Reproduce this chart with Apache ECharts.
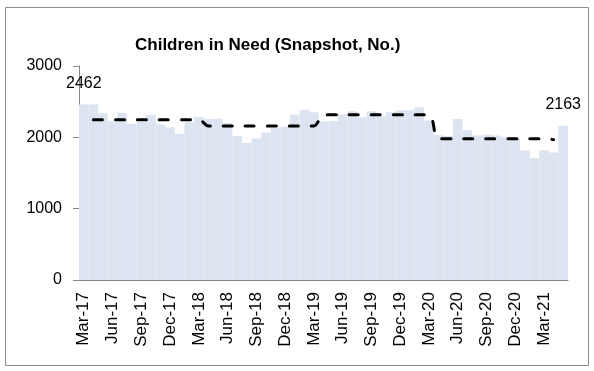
<!DOCTYPE html>
<html>
<head>
<meta charset="utf-8">
<script src="https://cdn.jsdelivr.net/npm/echarts@6/dist/echarts.min.js"></script>
<style>
  html, body { margin: 0; padding: 0; background: #fff; }
  #chart { width: 594px; height: 371px; }
</style>
</head>
<body>
<div id="chart"></div>
<script>
var months = [
    'Mar-17','Apr-17','May-17','Jun-17','Jul-17','Aug-17','Sep-17','Oct-17','Nov-17','Dec-17',
    'Jan-18','Feb-18','Mar-18','Apr-18','May-18','Jun-18','Jul-18','Aug-18','Sep-18','Oct-18','Nov-18','Dec-18',
    'Jan-19','Feb-19','Mar-19','Apr-19','May-19','Jun-19','Jul-19','Aug-19','Sep-19','Oct-19','Nov-19','Dec-19',
    'Jan-20','Feb-20','Mar-20','Apr-20','May-20','Jun-20','Jul-20','Aug-20','Sep-20','Oct-20','Nov-20','Dec-20',
    'Jan-21','Feb-21','Mar-21','Apr-21','May-21'
];

// monthly snapshot count
var snapshot = [
    2462, 2460, 2336, 2224, 2346, 2192, 2216, 2318, 2182, 2140,
    2047, 2213, 2286, 2258, 2262, 2200, 2020, 1921, 1985, 2069, 2130, 2150,
    2318, 2388, 2350, 2225, 2230, 2320, 2364, 2280, 2364, 2294, 2350, 2375,
    2380, 2423, 2235, 2030, 2020, 2258, 2098, 2025, 2035, 2025, 2000, 1985,
    1817, 1710, 1817, 1789, 2163
];

// yearly average (dashed line)
var yearAvg = [
    null, 2248, 2248, 2248, 2248, 2248, 2248, 2248, 2248, 2248,
    2248, 2248, 2248, 2160, 2160, 2160, 2160, 2160, 2160, 2160, 2160, 2160,
    2160, 2160, 2160, 2318, 2318, 2318, 2318, 2318, 2318, 2318, 2318, 2318,
    2318, 2318, 2318, 1981, 1981, 1981, 1981, 1981, 1981, 1981, 1981, 1981,
    1981, 1981, 1981, 1968, null
];

var yTicks = [0, 1000, 2000, 3000];

var font = 'Liberation Sans, Arial, sans-serif';

// label only the first and last bar
var barData = [];
for (var i = 0; i < snapshot.length; i++) {
    var item = { value: snapshot[i] };
    if (i === 0 || i === snapshot.length - 1) {
        item.label = { show: true };
    }
    barData.push(item);
}

var myChart = echarts.init(document.getElementById('chart'));
var option = {
    animation: false,
    backgroundColor: '#fff',
    title: {
        text: 'Children in Need (Snapshot, No.)',
        left: 130,
        top: 32,
        textStyle: {
            fontFamily: font,
            fontSize: 17,
            fontWeight: 'bold',
            color: '#000'
        }
    },
    graphic: [
        {
            type: 'rect',
            shape: { x: 5.5, y: 7.5, width: 583, height: 358 },
            style: { fill: 'none', stroke: '#8c8c8c', lineWidth: 1 },
            silent: true
        }
    ],
    grid: {
        left: 79,
        right: 26,
        top: 66,
        bottom: 91
    },
    xAxis: {
        type: 'category',
        data: months,
        boundaryGap: true,
        axisLine: { lineStyle: { color: '#868686', width: 1 } },
        axisTick: {
            interval: 2,
            length: 5,
            lineStyle: { color: '#868686' }
        },
        axisLabel: {
            interval: 2,
            rotate: 90,
            margin: 12,
            fontFamily: font,
            fontSize: 17,
            color: '#000'
        },
        splitLine: { show: false }
    },
    yAxis: {
        type: 'value',
        min: yTicks[0],
        max: yTicks[yTicks.length - 1],
        interval: 1000,
        axisLine: { show: true, lineStyle: { color: '#868686', width: 1 } },
        axisTick: { show: true, length: 6, lineStyle: { color: '#868686' } },
        axisLabel: {
            margin: 17,
            fontFamily: font,
            fontSize: 16,
            color: '#000',
            formatter: function (value) {
                return String(value);
            }
        },
        splitLine: { show: false }
    },
    series: [
        {
            name: 'Snapshot',
            type: 'bar',
            data: barData,
            barCategoryGap: '0%',
            itemStyle: { color: '#dbe4f0' },
            label: {
                show: false,
                position: 'top',
                distance: 13,
                fontFamily: font,
                fontSize: 16,
                color: '#000'
            }
        },
        {
            name: 'Average',
            type: 'line',
            data: yearAvg,
            smooth: 0.4,
            symbol: 'none',
            connectNulls: false,
            lineStyle: {
                color: '#000',
                width: 3,
                type: [9, 13],
                cap: 'round'
            },
            z: 5
        }
    ]
};
option && myChart.setOption(option);
</script>
</body>
</html>
